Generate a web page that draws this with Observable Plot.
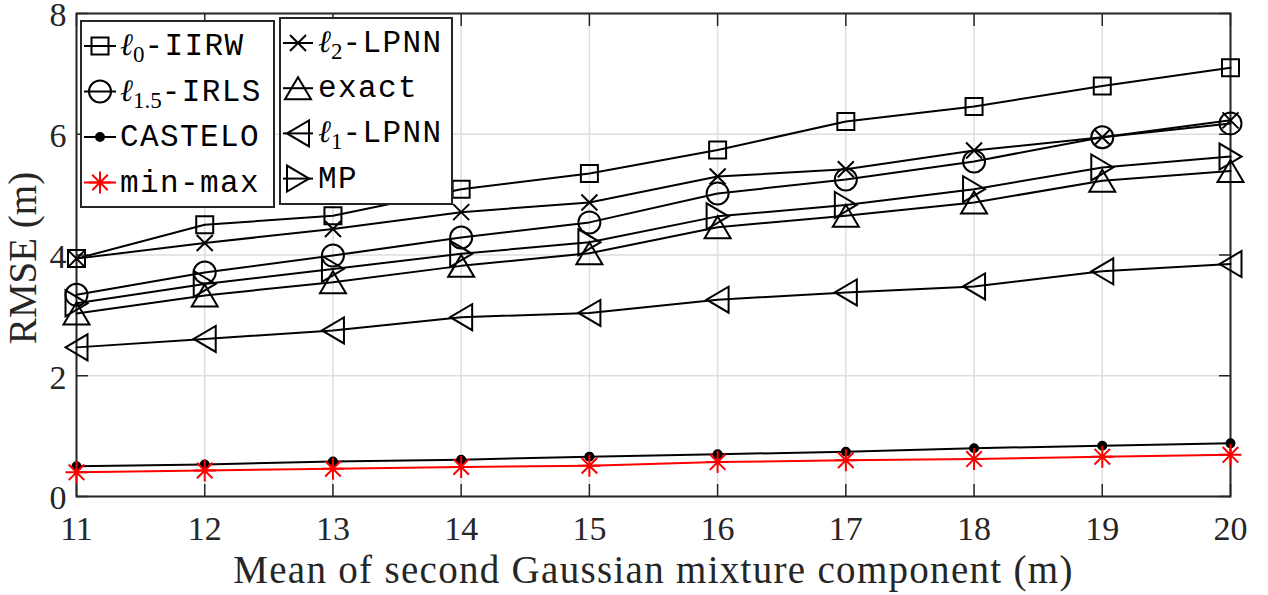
<!DOCTYPE html>
<html><head><meta charset="utf-8">
<script src="https://cdn.jsdelivr.net/npm/d3@7"></script>
<script src="https://cdn.jsdelivr.net/npm/@observablehq/plot@0.6"></script>
<style>
html,body{margin:0;padding:0;background:#fff;}
#chart{position:relative;width:1268px;height:595px;}
</style></head><body><div id="chart"></div>
<script>
// ---- data ----
const meanValues = [11, 12, 13, 14, 15, 16, 17, 18, 19, 20];
const l0IIRW  = [3.94, 4.50, 4.65, 5.09, 5.35, 5.74, 6.21, 6.46, 6.80, 7.10];
const l15IRLS = [3.34, 3.71, 3.99, 4.29, 4.54, 5.02, 5.25, 5.55, 5.95, 6.18];
const castelo = [0.50, 0.53, 0.58, 0.61, 0.66, 0.70, 0.74, 0.80, 0.84, 0.88];
const minMax  = [0.40, 0.43, 0.46, 0.49, 0.51, 0.57, 0.60, 0.62, 0.66, 0.69];
const l2LPNN  = [3.94, 4.20, 4.43, 4.71, 4.87, 5.30, 5.42, 5.73, 5.95, 6.23];
const exact   = [3.03, 3.33, 3.55, 3.82, 4.03, 4.46, 4.65, 4.87, 5.23, 5.39];
const l1LPNN  = [2.47, 2.61, 2.75, 2.97, 3.04, 3.26, 3.38, 3.48, 3.73, 3.85];
const mp      = [3.20, 3.52, 3.77, 4.02, 4.21, 4.64, 4.83, 5.09, 5.45, 5.63];
const xTicks = [11, 12, 13, 14, 15, 16, 17, 18, 19, 20];
const yTicks = [0, 2, 4, 6, 8];
const xTitle = "Mean of second Gaussian mixture component (m)";
const yTitle = "RMSE (m)";

// ---- marker shapes (MATLAB style) ----
const sqSym = {draw(c){const h=8.5;c.moveTo(-h,-h);c.lineTo(h,-h);c.lineTo(h,h);c.lineTo(-h,h);c.closePath();}};
const circSym = {draw(c){c.moveTo(11,0);c.arc(0,0,11,0,2*Math.PI);c.closePath();}};
const upTri = {draw(c){c.moveTo(0,-11);c.lineTo(13,11);c.lineTo(-13,11);c.closePath();}};
const rightTri = {draw(c){c.moveTo(11,0);c.lineTo(-11,13);c.lineTo(-11,-13);c.closePath();}};
const leftTri = {draw(c){c.moveTo(-11,0);c.lineTo(11,-13);c.lineTo(11,13);c.closePath();}};
const timesSym = {draw(c){const h=8;c.moveTo(-h,-h);c.lineTo(h,h);c.moveTo(-h,h);c.lineTo(h,-h);}};
const astSym = {draw(c){const r=11,d=r/Math.SQRT2;c.moveTo(0,-r);c.lineTo(0,r);c.moveTo(-r,0);c.lineTo(r,0);c.moveTo(-d,-d);c.lineTo(d,d);c.moveTo(-d,d);c.lineTo(d,-d);}};
const dotSym = {draw(c){c.moveTo(4,0);c.arc(0,0,4,0,2*Math.PI);c.closePath();}};

const series = [
  {values: l0IIRW,  symbol: sqSym,    color: "#000", fill: "none", sub: "0",   text: "-IIRW"},
  {values: l15IRLS, symbol: circSym,  color: "#000", fill: "none", sub: "1.5", text: "-IRLS"},
  {values: castelo, symbol: dotSym,   color: "#000", fill: "#000", sub: null,  text: "CASTELO"},
  {values: minMax,  symbol: astSym,   color: "#ff0000", fill: "none", sub: null, text: "min-max"},
  {values: l2LPNN,  symbol: timesSym, color: "#000", fill: "none", sub: "2",   text: "-LPNN"},
  {values: exact,   symbol: upTri,    color: "#000", fill: "none", sub: null,  text: "exact"},
  {values: l1LPNN,  symbol: leftTri,  color: "#000", fill: "none", sub: "1",   text: "-LPNN"},
  {values: mp,      symbol: rightTri, color: "#000", fill: "none", sub: null,  text: "MP"}
];

const axisColor = "#262626";
const dataMarks = [];
series.forEach(s => {
  const rows = s.values.map((v, i) => ({x: meanValues[i], y: v}));
  dataMarks.push(Plot.line(rows, {x: "x", y: "y", stroke: s.color, strokeWidth: 2}));
});
series.forEach(s => {
  const rows = s.values.map((v, i) => ({x: meanValues[i], y: v}));
  dataMarks.push(Plot.dot(rows, {x: "x", y: "y", symbol: s.symbol, stroke: s.color, fill: s.fill, strokeWidth: 2}));
});

const plot = Plot.plot({
  width: 1268, height: 595,
  marginLeft: 76, marginRight: 38, marginTop: 13, marginBottom: 99,
  style: {fontFamily: "'Liberation Serif', serif", fontSize: "34px", color: axisColor, background: "#fff", overflow: "visible"},
  x: {domain: [11, 20], ticks: xTicks, label: null},
  y: {domain: [0, 8], ticks: yTicks, label: null},
  marks: [
    Plot.gridX(xTicks, {stroke: "#dedede", strokeOpacity: 1, strokeWidth: 1.5}),
    Plot.gridY(yTicks, {stroke: "#dedede", strokeOpacity: 1, strokeWidth: 1.5}),
    Plot.frame({stroke: axisColor, strokeWidth: 2}),
    Plot.axisX(xTicks, {anchor: "bottom", tickSize: -12, fill: "none", stroke: axisColor, strokeWidth: 1.5, label: null}),
    Plot.axisX(xTicks, {anchor: "top", tickSize: -12, fill: "none", stroke: axisColor, strokeWidth: 1.5, label: null}),
    Plot.axisY(yTicks, {anchor: "left", tickSize: -12, fill: "none", stroke: axisColor, strokeWidth: 1.5, label: null}),
    Plot.axisY(yTicks, {anchor: "right", tickSize: -12, fill: "none", stroke: axisColor, strokeWidth: 1.5, label: null}),
    Plot.axisX(xTicks, {anchor: "bottom", tickSize: 0, tickPadding: 19, fontSize: 34, tickFormat: d => String(d), label: null}),
    Plot.axisY(yTicks, {anchor: "left", tickSize: 0, tickPadding: 10, dy: 2, fontSize: 34, tickFormat: d => String(d), label: null}),
    Plot.text([xTitle], {text: d => d, frameAnchor: "bottom", lineAnchor: "bottom", textAnchor: "middle", dy: 86, fontSize: 39, fill: axisColor}),
    Plot.text([yTitle], {text: d => d, frameAnchor: "left", lineAnchor: "bottom", textAnchor: "middle", rotate: -90, dx: -41, dy: 3, fontSize: 39, fill: axisColor}),
    ...dataMarks
  ]
});
document.getElementById("chart").appendChild(plot);
d3.select(plot).selectAll("text").filter(function(){ return this.textContent === xTitle; }).attr("letter-spacing", "1.3px");

// ---- legend (two boxes, MATLAB columns) ----
const svg = d3.select(plot);
const lg = svg.append("g").attr("class", "legend").attr("text-anchor", "start");
const boxes = [
  {x: 81, y: 21, w: 193, h: 186, row0: 46, step: 45.5, lineX0: 84, lineX1: 116, textX: 120, items: series.slice(0, 4)},
  {x: 280, y: 18, w: 172, h: 186, row0: 43, step: 45.2, lineX0: 283, lineX1: 313, textX: 318, items: series.slice(4)}
];
boxes.forEach(b => {
  lg.append("rect").attr("x", b.x).attr("y", b.y).attr("width", b.w).attr("height", b.h)
    .attr("fill", "#fff").attr("stroke", axisColor).attr("stroke-width", 2);
  b.items.forEach((s, j) => {
    const cy = b.row0 + j * b.step;
    lg.append("line").attr("x1", b.lineX0).attr("x2", b.lineX1).attr("y1", cy).attr("y2", cy)
      .attr("stroke", s.color).attr("stroke-width", 2);
    lg.append("path").attr("d", d3.symbol(s.symbol)())
      .attr("transform", `translate(${(b.lineX0 + b.lineX1) / 2},${cy})`)
      .attr("fill", s.fill).attr("stroke", s.color).attr("stroke-width", 2);
    const t = lg.append("text").attr("x", b.textX).attr("y", cy + 9).attr("fill", "#000").attr("text-anchor", "start")
      .attr("font-family", "'Liberation Mono', monospace").attr("font-size", 31).attr("letter-spacing", "1.4px");
    if (s.sub != null) {
      t.append("tspan").attr("font-family", "'DejaVu Serif', serif").attr("font-style", "italic").attr("font-size", 31).attr("letter-spacing", "0px").text("ℓ");
      t.append("tspan").attr("font-family", "'Liberation Serif', serif").attr("font-size", 23).attr("letter-spacing", "0px").attr("dy", 7).text(s.sub);
      t.append("tspan").attr("dy", -7).text(s.text);
    } else {
      t.text(s.text);
    }
  });
});
</script></body></html>
